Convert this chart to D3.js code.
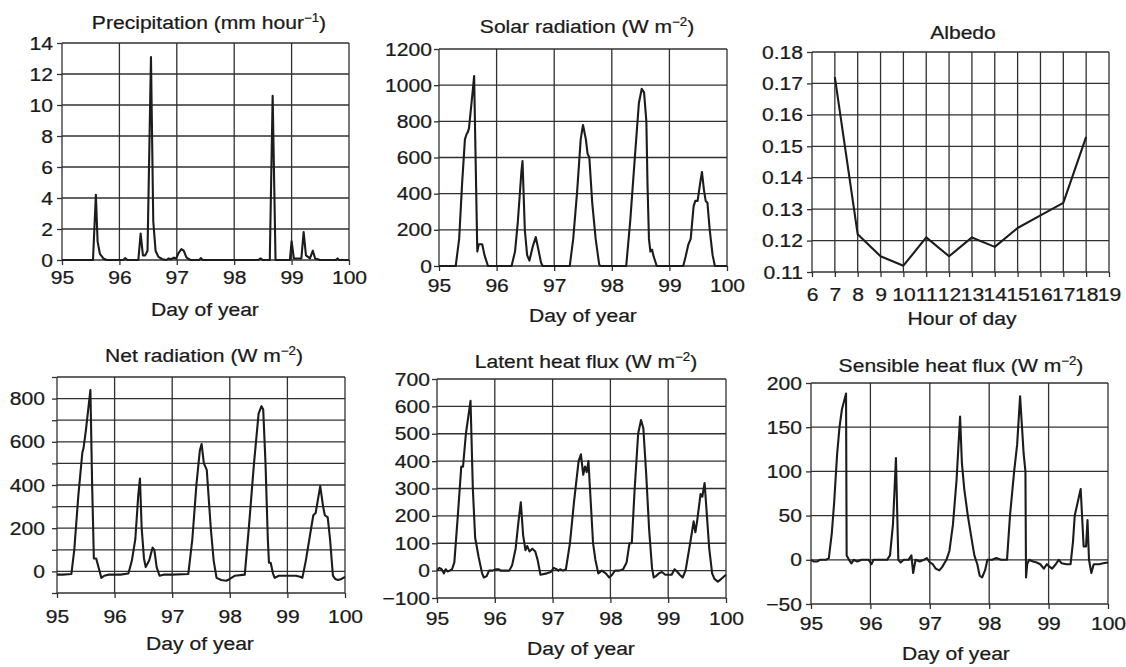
<!DOCTYPE html>
<html><head><meta charset="utf-8">
<script src="https://cdn.jsdelivr.net/npm/d3@7"></script>
<style>
body{margin:0;background:#fff;}
svg{display:block;}
text{font-family:"Liberation Sans",Arial,Helvetica,sans-serif;fill:#1a1a1a;stroke:#1a1a1a;stroke-width:0.25px;}
</style>
</head><body>
<svg id="c" width="1126" height="667"></svg>
<script>
// ---------------- DATA ----------------
const dayTicks = [95, 96, 97, 98, 99, 100];
const hourTicks = [6, 7, 8, 9, 10, 11, 12, 13, 14, 15, 16, 17, 18, 19];

const precipTicks = [0, 2, 4, 6, 8, 10, 12, 14];
const solarTicks = [0, 200, 400, 600, 800, 1000, 1200];
const albedoTicks = [0.11, 0.12, 0.13, 0.14, 0.15, 0.16, 0.17, 0.18];
const netGrid = [-100, 0, 100, 200, 300, 400, 500, 600, 700, 800, 900];
const netLabels = [0, 200, 400, 600, 800];
const latentTicks = [-100, 0, 100, 200, 300, 400, 500, 600, 700];
const sensibleTicks = [-50, 0, 50, 100, 150, 200];

// [day of year, mm/hour]
const precipitation = [[95,0],[95.54,0],[95.59,4.2],[95.62,1.2],[95.66,0.4],[95.72,0.1],[95.78,0],[96.07,0],[96.1,0.12],[96.14,0],[96.33,0],[96.37,1.7],[96.41,0.3],[96.45,0.3],[96.49,0.6],[96.55,13.1],[96.59,2.5],[96.63,0.6],[96.68,0.2],[96.75,0.05],[96.82,0],[96.86,0.1],[96.9,0.05],[96.95,0.15],[96.99,0.1],[97.03,0.45],[97.08,0.7],[97.12,0.6],[97.17,0.15],[97.24,0],[97.39,0],[97.42,0.12],[97.45,0],[98.42,0],[98.46,0.1],[98.5,0],[98.62,0],[98.67,10.6],[98.72,0],[98.97,0],[99.0,1.2],[99.04,0.1],[99.17,0.1],[99.21,1.8],[99.25,0.3],[99.32,0.1],[99.37,0.6],[99.41,0.1],[99.5,0],[99.77,0],[99.8,0.1],[99.83,0],[100,0]];

// [day of year, W m-2]
const solar = [[95,0],[95.29,0],[95.35,150],[95.4,450],[95.45,700],[95.48,730],[95.5,740],[95.52,760],[95.58,950],[95.61,1050],[95.635,600],[95.665,80],[95.69,120],[95.75,120],[95.79,60],[95.85,0],[96.26,0],[96.32,80],[96.37,250],[96.43,520],[96.45,580],[96.49,200],[96.53,60],[96.57,30],[96.63,110],[96.68,160],[96.72,100],[96.77,20],[96.8,0],[97.27,0],[97.33,150],[97.4,420],[97.46,700],[97.5,780],[97.55,700],[97.58,620],[97.61,600],[97.66,350],[97.72,150],[97.78,10],[97.8,0],[98.25,0],[98.32,250],[98.4,600],[98.47,900],[98.52,980],[98.56,960],[98.6,800],[98.62,450],[98.645,150],[98.67,80],[98.7,90],[98.72,60],[98.78,0],[99.24,0],[99.28,50],[99.33,120],[99.37,150],[99.42,330],[99.45,360],[99.49,360],[99.53,450],[99.565,520],[99.6,420],[99.63,360],[99.66,350],[99.7,200],[99.75,60],[99.79,0],[100,0]];

// [hour of day, albedo]
const albedoHours = [7, 8, 9, 10, 11, 12, 13, 14, 15, 16, 17, 18];
const albedo = [0.172, 0.122, 0.115, 0.112, 0.121, 0.115, 0.121, 0.118, 0.124, 0.128, 0.132, 0.153];

const netRadiation = [[95,-15],[95.1,-15],[95.25,-12],[95.3,100],[95.37,350],[95.44,550],[95.46,570],[95.5,650],[95.58,840],[95.61,400],[95.64,60],[95.68,60],[95.72,20],[95.77,-30],[95.82,-20],[95.9,-15],[96.1,-15],[96.24,-10],[96.3,50],[96.36,150],[96.41,350],[96.44,430],[96.47,200],[96.51,60],[96.54,20],[96.6,50],[96.66,110],[96.69,100],[96.73,20],[96.78,-20],[96.85,-15],[97.0,-15],[97.28,-12],[97.35,150],[97.42,400],[97.48,560],[97.51,590],[97.55,500],[97.6,470],[97.67,200],[97.72,50],[97.77,-30],[97.85,-40],[97.94,-43],[98.0,-35],[98.09,-20],[98.26,-15],[98.33,200],[98.42,500],[98.5,730],[98.55,765],[98.58,750],[98.62,500],[98.66,150],[98.68,40],[98.71,40],[98.75,-10],[98.78,-30],[98.85,-20],[99.0,-20],[99.15,-20],[99.22,-25],[99.26,-30],[99.32,50],[99.4,180],[99.45,260],[99.49,270],[99.57,395],[99.62,300],[99.65,260],[99.7,250],[99.74,150],[99.79,-20],[99.83,-35],[99.88,-40],[99.94,-35],[100,-25]];

const latentHeat = [[95,0],[95.04,10],[95.08,5],[95.12,-10],[95.15,5],[95.18,-3],[95.22,0],[95.26,5],[95.3,30],[95.36,200],[95.42,380],[95.45,380],[95.5,500],[95.58,620],[95.62,300],[95.66,120],[95.72,50],[95.78,-10],[95.81,-25],[95.86,-20],[95.9,0],[95.96,0],[96.02,5],[96.07,5],[96.1,0],[96.25,0],[96.3,20],[96.36,80],[96.41,180],[96.45,250],[96.49,130],[96.53,75],[96.56,90],[96.6,70],[96.65,80],[96.7,70],[96.74,40],[96.79,-15],[96.9,-10],[96.97,-5],[97.02,10],[97.07,5],[97.1,0],[97.13,5],[97.18,0],[97.23,5],[97.3,100],[97.37,250],[97.45,400],[97.49,425],[97.53,350],[97.56,380],[97.59,360],[97.62,400],[97.66,250],[97.7,100],[97.74,40],[97.79,-10],[97.85,0],[97.92,-10],[97.98,-25],[98.03,-15],[98.08,0],[98.15,0],[98.22,5],[98.28,30],[98.33,100],[98.37,100],[98.42,300],[98.48,500],[98.53,550],[98.57,520],[98.62,350],[98.67,150],[98.72,10],[98.75,-25],[98.79,-20],[98.84,-10],[98.89,-5],[98.95,-15],[99.0,-15],[99.06,-15],[99.11,5],[99.16,-5],[99.2,-15],[99.25,-25],[99.3,0],[99.38,100],[99.44,180],[99.47,140],[99.5,180],[99.56,280],[99.59,270],[99.63,320],[99.67,200],[99.71,80],[99.76,-10],[99.8,-30],[99.86,-40],[99.92,-30],[100,-15]];

const sensibleHeat = [[95,0],[95.05,-2],[95.1,-2],[95.15,0],[95.25,0],[95.3,2],[95.35,30],[95.39,65],[95.44,120],[95.48,150],[95.52,170],[95.59,188],[95.6,5],[95.64,0],[95.68,-4],[95.72,0],[95.78,-2],[95.85,0],[95.97,0],[96.02,-5],[96.05,0],[96.28,0],[96.33,5],[96.38,40],[96.43,115],[96.47,0],[96.51,-3],[96.56,0],[96.64,0],[96.69,5],[96.72,-15],[96.76,0],[96.83,-2],[96.9,0],[96.95,2],[97.0,-3],[97.05,-5],[97.1,-10],[97.16,-12],[97.21,-8],[97.28,0],[97.33,10],[97.39,40],[97.45,90],[97.51,162],[97.54,110],[97.58,80],[97.64,50],[97.7,25],[97.75,5],[97.8,-5],[97.84,-18],[97.88,-20],[97.93,-12],[97.97,0],[98.05,0],[98.12,2],[98.2,0],[98.3,0],[98.35,50],[98.42,100],[98.47,130],[98.52,185],[98.58,120],[98.61,100],[98.62,-20],[98.64,-5],[98.67,0],[98.74,-2],[98.8,-3],[98.86,-5],[98.92,-10],[98.97,-5],[99.02,-8],[99.06,-10],[99.12,-5],[99.17,0],[99.22,-4],[99.3,-5],[99.37,-5],[99.41,20],[99.44,50],[99.49,65],[99.54,80],[99.59,15],[99.63,15],[99.655,45],[99.68,0],[99.72,-15],[99.76,-5],[99.85,-5],[99.92,-4],[100,-3]];

// ---------------- LAYOUT ----------------
const panels = [
  {title: ["Precipitation (mm hour", "\u22121", ")"], series: precipitation,
   xDom: [95, 100], xGrid: dayTicks, xTitle: "Day of year",
   yDom: [0, 14], yGrid: precipTicks, yLabels: precipTicks, fmt: d3.format("d"),
   box: {l: 62, r: 349, t: 43, b: 260}, titleX: 209, titleY: 29, xLabY: 284, xTitleX: 205, xTitleY: 316, yLabR: 53},
  {title: ["Solar radiation (W m", "\u22122", ")"], series: solar,
   xDom: [95, 100], xGrid: dayTicks, xTitle: "Day of year",
   yDom: [0, 1200], yGrid: solarTicks, yLabels: solarTicks, fmt: d3.format("d"),
   box: {l: 439, r: 727, t: 49, b: 266}, titleX: 587, titleY: 33, xLabY: 292, xTitleX: 583, xTitleY: 322, yLabR: 432},
  {title: ["Albedo"], hourly: true,
   xDom: [6, 19], xGrid: hourTicks, xTitle: "Hour of day",
   yDom: [0.11, 0.18], yGrid: albedoTicks, yLabels: albedoTicks, fmt: d3.format(".2f"),
   box: {l: 812, r: 1109, t: 52, b: 272}, titleX: 963, titleY: 39, xLabY: 301, xTitleX: 962, xTitleY: 325, yLabR: 803},
  {title: ["Net radiation (W m", "\u22122", ")"], series: netRadiation,
   xDom: [95, 100], xGrid: dayTicks, xTitle: "Day of year",
   yDom: [-100, 900], yGrid: netGrid, yLabels: netLabels, fmt: d3.format("d"),
   box: {l: 57, r: 345, t: 377, b: 593}, titleX: 204, titleY: 362, xLabY: 623, xTitleX: 200, xTitleY: 650, yLabR: 45},
  {title: ["Latent heat flux (W m", "\u22122", ")"], series: latentHeat,
   xDom: [95, 100], xGrid: dayTicks, xTitle: "Day of year",
   yDom: [-100, 700], yGrid: latentTicks, yLabels: latentTicks, fmt: d3.format("d"),
   box: {l: 437, r: 726, t: 379, b: 598}, titleX: 586, titleY: 368, xLabY: 625, xTitleX: 581, xTitleY: 655, yLabR: 430},
  {title: ["Sensible heat flux (W m", "\u22122", ")"], series: sensibleHeat,
   xDom: [95, 100], xGrid: dayTicks, xTitle: "Day of year",
   yDom: [-50, 200], yGrid: sensibleTicks, yLabels: sensibleTicks, fmt: d3.format("d"),
   box: {l: 811, r: 1108, t: 383, b: 604}, titleX: 961, titleY: 372, xLabY: 630, xTitleX: 956, xTitleY: 660, yLabR: 802}
];

const FS = 19;
const SX = 1.11;            // horizontal stretch of the scanned lettering
const INK = "#1a1a1a";
const GRID = "#303030";
const svg = d3.select("#c");
svg.append("rect").attr("width", 1126).attr("height", 667).attr("fill", "#fff");

// stretch a text element horizontally about its anchor x
function stretch(sel) {
  sel.each(function () {
    const ax = +(this.getAttribute("x") || 0);
    this.setAttribute("transform", `translate(${ax},0) scale(${SX},1) translate(${-ax},0)`);
  });
}

panels.forEach(p => {
  const b = p.box;
  const x = d3.scaleLinear().domain(p.xDom).range([b.l, b.r]);
  const y = d3.scaleLinear().domain(p.yDom).range([b.b, b.t]);
  const g = svg.append("g");

  // gridlines
  g.append("g").selectAll("line").data(p.yGrid).join("line")
    .attr("x1", b.l).attr("x2", b.r)
    .attr("y1", d => y(d)).attr("y2", d => y(d))
    .attr("stroke", GRID).attr("stroke-width", 1.3);
  g.append("g").selectAll("line").data(p.xGrid).join("line")
    .attr("x1", d => x(d)).attr("x2", d => x(d))
    .attr("y1", b.t).attr("y2", b.b)
    .attr("stroke", GRID).attr("stroke-width", 1.3);

  // axes
  const yAxis = d3.axisLeft(y).tickValues(p.yGrid).tickSize(5)
    .tickPadding(b.l - p.yLabR - 5)
    .tickFormat(d => p.yLabels.some(v => Math.abs(v - d) < 1e-9) ? p.fmt(d) : "");
  const xAxis = d3.axisBottom(x).tickValues(p.xGrid).tickSize(5)
    .tickPadding(p.xLabY - b.b - 5 - 0.71 * FS)
    .tickFormat(d3.format("d"));

  [[yAxis, `translate(${b.l},0)`], [xAxis, `translate(0,${b.b})`]].forEach(([ax, tr]) => {
    g.append("g").attr("transform", tr).call(ax)
      .attr("font-size", null).attr("font-family", null).attr("color", GRID)
      .call(s => s.select(".domain").remove())
      .call(s => s.selectAll(".tick line").attr("stroke-width", 1.3))
      .call(s => s.selectAll("text").attr("font-size", FS).style("fill", INK).call(stretch));
  });

  // data line
  const line = d3.line().x(d => x(d[0])).y(d => y(d[1]));
  const pts = p.hourly ? albedoHours.map((h, i) => [h, albedo[i]]) : p.series;
  g.append("path").datum(pts).attr("d", line)
    .attr("fill", "none").attr("stroke", "#1c1c1c").attr("stroke-width", 2.1)
    .attr("stroke-linejoin", "round");

  // title
  const t = g.append("text").attr("x", p.titleX).attr("y", p.titleY)
    .attr("text-anchor", "middle").attr("font-size", FS);
  t.append("tspan").text(p.title[0]);
  if (p.title.length > 1) {
    t.append("tspan").attr("font-size", 12).attr("dy", -7).text(p.title[1]);
    t.append("tspan").attr("dy", 7).text(p.title[2]);
  }
  t.call(stretch);

  // axis title
  g.append("text").attr("x", p.xTitleX).attr("y", p.xTitleY)
    .attr("text-anchor", "middle").attr("font-size", FS).text(p.xTitle).call(stretch);
});
</script>
</body></html>
